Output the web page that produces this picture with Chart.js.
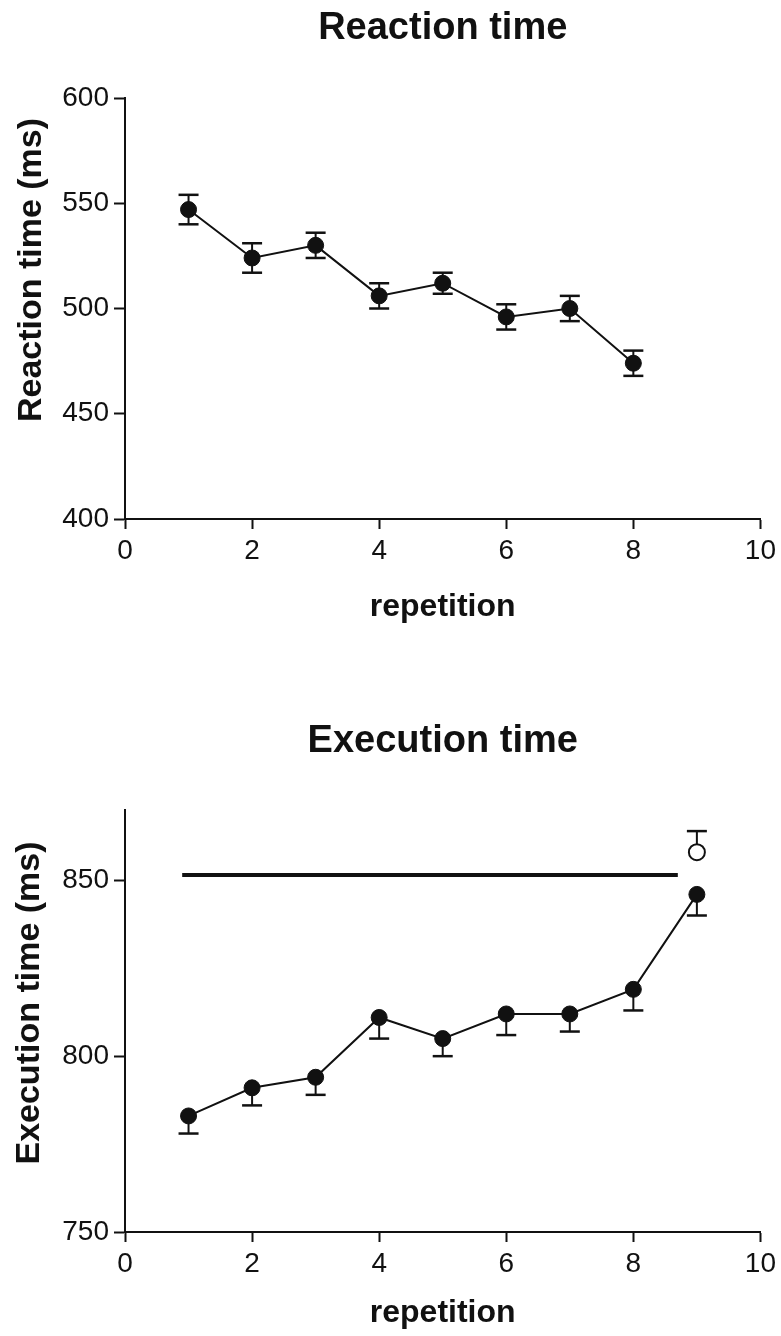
<!DOCTYPE html>
<html lang="en">
<head>
    <meta charset="UTF-8">
    <title>Reaction time / Execution time</title>
    <script src="https://cdn.jsdelivr.net/npm/chart.js"></script>
    <style>
        body {
            margin: 0;
            background-color: #ffffff;
        }
        canvas {
            display: block;
        }
    </style>
</head>
<body>
    <canvas id="chart1" width="781" height="668"></canvas>
    <canvas id="chart2" width="781" height="668"></canvas>

    <script>
        // ---- data ----
        const xTicks = [0, 2, 4, 6, 8, 10];

        const reactionReps = [1, 2, 3, 4, 5, 6, 7, 8];
        const reactionMean = [547, 524, 530, 506, 512, 496, 500, 474];
        const reactionErr = [7, 7, 6, 6, 5, 6, 6, 6];
        const reactionTicks = [400, 450, 500, 550, 600];

        const executionReps = [1, 2, 3, 4, 5, 6, 7, 8, 9];
        const executionMean = [783, 791, 794, 811, 805, 812, 812, 819, 846];
        const executionErr = [5, 5, 5, 6, 5, 6, 5, 6, 6];
        const executionTicks = [750, 800, 850];

        // open circle at the last repetition
        const controlReps = [9];
        const controlMean = [858];
        const controlErr = [6];

        // thick horizontal reference line
        const refSpan = [0.9, 8.7];
        const refLevel = [851.5, 851.5];

        const FONT = '"Liberation Sans", Arial, Helvetica, sans-serif';
        const INK = '#111111';

        function toPoints(xs, ys) {
            return xs.map((x, i) => ({ x: x, y: ys[i] }));
        }

        // error bars, drawn through the chart scales
        const errorBarPlugin = {
            id: 'errorBars',
            beforeDatasetsDraw(chart, args, opts) {
                const ctx = chart.ctx;
                const xs = chart.scales.x;
                const ys = chart.scales.y;
                ctx.save();
                ctx.strokeStyle = INK;
                (opts.bars || []).forEach(bar => {
                    const data = chart.data.datasets[bar.datasetIndex].data;
                    data.forEach((p, i) => {
                        const e = bar.err[i];
                        const px = xs.getPixelForValue(p.x);
                        const py = ys.getPixelForValue(p.y);
                        const ends = [];
                        if (bar.dir !== 'up') ends.push(ys.getPixelForValue(p.y - e));
                        if (bar.dir !== 'down') ends.push(ys.getPixelForValue(p.y + e));
                        ends.forEach(ey => {
                            ctx.lineWidth = 2;
                            ctx.beginPath();
                            ctx.moveTo(px, py);
                            ctx.lineTo(px, ey);
                            ctx.stroke();
                            ctx.lineWidth = 2.5;
                            ctx.beginPath();
                            ctx.moveTo(px - 10, ey);
                            ctx.lineTo(px + 10, ey);
                            ctx.stroke();
                        });
                    });
                });
                ctx.restore();
            }
        };

        // rotated y title, placed a bit off the axis centre like the figure
        const yTitlePlugin = {
            id: 'yTitle',
            afterDraw(chart, args, opts) {
                if (!opts.text) return;
                const ctx = chart.ctx;
                ctx.save();
                ctx.translate(opts.x, opts.y);
                ctx.rotate(-Math.PI / 2);
                ctx.font = 'bold 34px ' + FONT;
                ctx.fillStyle = INK;
                ctx.textAlign = 'center';
                ctx.textBaseline = 'middle';
                ctx.fillText(opts.text, 0, 0);
                ctx.restore();
            }
        };

        function makeChart(id, cfg) {
            const ctx = document.getElementById(id).getContext('2d');
            return new Chart(ctx, {
                type: 'line',
                data: { datasets: cfg.datasets },
                options: {
                    responsive: false,
                    animation: false,
                    events: [],
                    layout: { padding: { left: 0, right: 18, top: 0, bottom: 0 } },
                    scales: {
                        x: {
                            type: 'linear',
                            min: 0,
                            max: 10,
                            afterBuildTicks: s => { s.ticks = xTicks.map(v => ({ value: v })); },
                            afterFit: s => { s.height = cfg.xHeight; },
                            border: { color: INK, width: 2 },
                            grid: {
                                drawOnChartArea: false,
                                drawTicks: true,
                                tickLength: 10,
                                tickWidth: 2,
                                tickColor: INK
                            },
                            ticks: {
                                color: INK,
                                padding: 5,
                                maxRotation: 0,
                                font: { family: FONT, size: 28 }
                            },
                            title: {
                                display: true,
                                text: 'repetition',
                                color: INK,
                                font: { family: FONT, size: 32, weight: 'bold' },
                                padding: { top: 0, bottom: cfg.xTitlePad }
                            }
                        },
                        y: {
                            type: 'linear',
                            min: cfg.yMin,
                            max: cfg.yMax,
                            afterBuildTicks: s => { s.ticks = cfg.yTicks.map(v => ({ value: v })); },
                            afterFit: s => { s.width = 125; },
                            border: { color: INK, width: 2 },
                            grid: {
                                drawOnChartArea: false,
                                drawTicks: true,
                                tickLength: 11,
                                tickWidth: 2,
                                tickColor: INK
                            },
                            ticks: {
                                color: INK,
                                padding: 5,
                                font: { family: FONT, size: 28 }
                            }
                        }
                    },
                    plugins: {
                        legend: { display: false },
                        tooltip: { enabled: false },
                        title: {
                            display: true,
                            text: cfg.title,
                            fullSize: false,
                            color: INK,
                            font: { family: FONT, size: 38, weight: 'bold' },
                            padding: cfg.titlePad
                        },
                        errorBars: { bars: cfg.bars },
                        yTitle: cfg.yTitle
                    }
                },
                plugins: [errorBarPlugin, yTitlePlugin]
            });
        }

        const seriesStyle = {
            borderColor: INK,
            borderWidth: 2,
            pointRadius: 8,
            pointBackgroundColor: INK,
            pointBorderColor: INK,
            pointBorderWidth: 1,
            tension: 0,
            fill: false
        };

        makeChart('chart1', {
            title: 'Reaction time',
            titlePad: { top: 6, bottom: 46.4 },
            xHeight: 149,
            xTitlePad: 42,
            yMin: 400,
            yMax: 600,
            yTicks: reactionTicks,
            yTitle: { text: 'Reaction time (ms)', x: 32, y: 270 },
            datasets: [
                Object.assign({ data: toPoints(reactionReps, reactionMean) }, seriesStyle)
            ],
            bars: [{ datasetIndex: 0, err: reactionErr, dir: 'both' }]
        });

        makeChart('chart2', {
            title: 'Execution time',
            titlePad: { top: 51, bottom: 45.4 },
            xHeight: 104,
            xTitlePad: 4,
            yMin: 750,
            yMax: 870,
            yTicks: executionTicks,
            yTitle: { text: 'Execution time (ms)', x: 30, y: 335 },
            datasets: [
                {
                    data: toPoints(refSpan, refLevel),
                    borderColor: INK,
                    borderWidth: 4,
                    pointRadius: 0,
                    fill: false
                },
                Object.assign({ data: toPoints(executionReps, executionMean) }, seriesStyle),
                {
                    data: toPoints(controlReps, controlMean),
                    showLine: false,
                    pointRadius: 8,
                    pointBackgroundColor: '#ffffff',
                    pointBorderColor: INK,
                    pointBorderWidth: 2
                }
            ],
            bars: [
                { datasetIndex: 1, err: executionErr, dir: 'down' },
                { datasetIndex: 2, err: controlErr, dir: 'up' }
            ]
        });
    </script>
</body>
</html>
